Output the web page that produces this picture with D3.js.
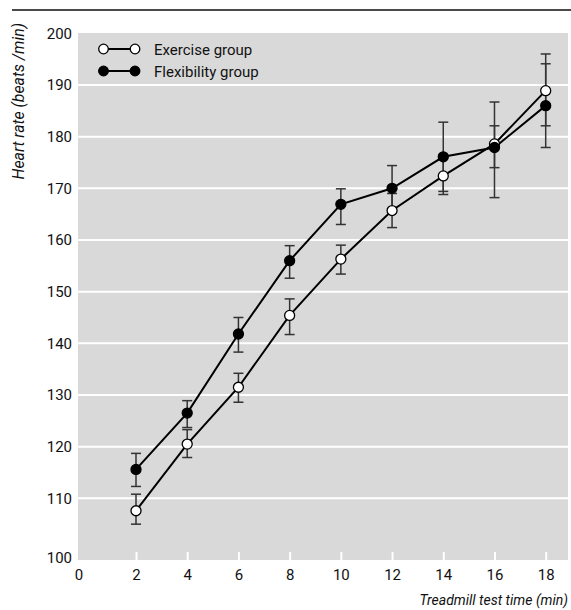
<!DOCTYPE html>
<html>
<head>
<meta charset="utf-8">
<script src="https://cdn.jsdelivr.net/npm/d3@7"></script>
<style>
  html, body { margin: 0; padding: 0; background: #fff; }
  svg { display: block; font-family: Roboto, "Liberation Sans", sans-serif; }
</style>
</head>
<body>
<svg id="chart" width="571" height="610"></svg>
<script>
// ---- data ----
const times = [2, 4, 6, 8, 10, 12, 14, 16, 18];
const exerciseMean = [107.6, 120.5, 131.5, 145.4, 156.3, 165.7, 172.4, 178.6, 188.9];
const exerciseLow  = [105.0, 117.9, 128.6, 141.7, 153.4, 162.4, 168.8, 174.0, 182.1];
const exerciseHigh = [110.8, 123.3, 134.2, 148.6, 159.0, 169.0, 176.0, 182.1, 196.0];
const flexMean = [115.6, 126.5, 141.8, 156.0, 166.9, 170.0, 176.1, 177.9, 186.0];
const flexLow  = [112.3, 123.7, 138.3, 152.6, 163.0, 165.6, 169.4, 168.2, 177.9];
const flexHigh = [118.7, 128.9, 145.0, 158.9, 169.9, 174.4, 182.8, 186.7, 194.1];
const xTicks = [0, 2, 4, 6, 8, 10, 12, 14, 16, 18];
const yTicks = [100, 110, 120, 130, 140, 150, 160, 170, 180, 190, 200];
const seriesNames = ["Exercise group", "Flexibility group"];
const xTitle = "Treadmill test time (min)";
const yTitle = "Heart rate (beats /min)";

// ---- layout ----
const svg = d3.select("#chart");
const plot = { left: 78, right: 568, top: 33, bottom: 560 };
const x = d3.scaleLinear().domain([2, 18]).range([136, 545.7]);
const y = d3.scaleLinear().domain([100, 200]).range([550, 33.3]);

const series = [
  { name: seriesNames[0], mean: exerciseMean, low: exerciseLow, high: exerciseHigh, fill: "#fff" },
  { name: seriesNames[1], mean: flexMean, low: flexLow, high: flexHigh, fill: "#000" }
];

// top rule
svg.append("line").attr("x1", 12).attr("x2", 571).attr("y1", 10).attr("y2", 10)
  .attr("stroke", "#4a4a4a").attr("stroke-width", 2);

// plot background
svg.append("rect").attr("x", plot.left).attr("y", plot.top)
  .attr("width", plot.right - plot.left).attr("height", plot.bottom - plot.top)
  .attr("fill", "#d9d9d9");

// gridlines
svg.append("g").selectAll("line").data(yTicks.filter(d => d > 100 && d < 200)).join("line")
  .attr("x1", plot.left).attr("x2", plot.right)
  .attr("y1", d => y(d)).attr("y2", d => y(d))
  .attr("stroke", "#fff").attr("stroke-width", 2);

// x axis: white inner ticks + labels
const xAxis = d3.axisBottom(x).tickValues(xTicks).tickSize(0).tickPadding(0).tickFormat(d3.format("d"));
const gx = svg.append("g").attr("transform", `translate(0,${plot.bottom})`).call(xAxis);
gx.select(".domain").remove();
gx.selectAll(".tick text").attr("y", 9).attr("font-size", 15).attr("fill", "#111")
  .attr("font-family", "Roboto, 'Liberation Sans', sans-serif");
gx.selectAll(".tick").filter(d => d === 0).attr("transform", `translate(${plot.left + 1},0)`);
gx.selectAll(".tick").filter(d => d !== 0).append("line")
  .attr("y1", -8).attr("y2", 0).attr("stroke", "#fff").attr("stroke-width", 2);

// y axis labels
const yAxis = d3.axisLeft(y).tickValues(yTicks).tickSize(0).tickPadding(6).tickFormat(d3.format("d"));
const gy = svg.append("g").attr("transform", `translate(${plot.left},0)`).call(yAxis);
gy.select(".domain").remove();
gy.selectAll(".tick text").attr("font-size", 15).attr("fill", "#111")
  .attr("font-family", "Roboto, 'Liberation Sans', sans-serif");
gy.selectAll(".tick").filter(d => d === 100).attr("transform", `translate(0,${plot.bottom - 2})`);

// axis titles
svg.append("text").attr("transform", `translate(24,23) rotate(-90)`)
  .attr("text-anchor", "end").attr("font-style", "italic").attr("font-size", 15.8)
  .attr("fill", "#111").text(yTitle);
svg.append("text").attr("x", 568).attr("y", 605)
  .attr("text-anchor", "end").attr("font-style", "italic").attr("font-size", 14)
  .attr("fill", "#111").text(xTitle);

// error bars
const capW = 5;
series.forEach(s => {
  const g = svg.append("g").attr("stroke", "#333").attr("stroke-width", 1.5).attr("fill", "none");
  times.forEach((t, i) => {
    const cx = x(t);
    g.append("line").attr("x1", cx).attr("x2", cx).attr("y1", y(s.low[i])).attr("y2", y(s.high[i]));
    g.append("line").attr("x1", cx - capW).attr("x2", cx + capW).attr("y1", y(s.low[i])).attr("y2", y(s.low[i]));
    g.append("line").attr("x1", cx - capW).attr("x2", cx + capW).attr("y1", y(s.high[i])).attr("y2", y(s.high[i]));
  });
});

// lines
const line = d3.line().x((d, i) => x(times[i])).y(d => y(d));
series.forEach(s => {
  svg.append("path").datum(s.mean).attr("d", line)
    .attr("fill", "none").attr("stroke", "#000").attr("stroke-width", 2);
});

// points
series.forEach(s => {
  svg.append("g").selectAll("circle").data(s.mean).join("circle")
    .attr("cx", (d, i) => x(times[i])).attr("cy", d => y(d)).attr("r", 5)
    .attr("fill", s.fill).attr("stroke", "#000").attr("stroke-width", 1.3);
});

// legend
const legend = svg.append("g");
series.forEach((s, i) => {
  const ly = 49 + i * 22;
  legend.append("line").attr("x1", 103.5).attr("x2", 135).attr("y1", ly).attr("y2", ly)
    .attr("stroke", "#000").attr("stroke-width", 2);
  [103.5, 135].forEach(cx => legend.append("circle").attr("cx", cx).attr("cy", ly).attr("r", 4.8)
    .attr("fill", s.fill).attr("stroke", "#000").attr("stroke-width", 1.3));
  legend.append("text").attr("x", 154).attr("y", ly + 5.5).attr("font-size", 15)
    .attr("fill", "#111").text(s.name);
});
</script>
</body>
</html>
